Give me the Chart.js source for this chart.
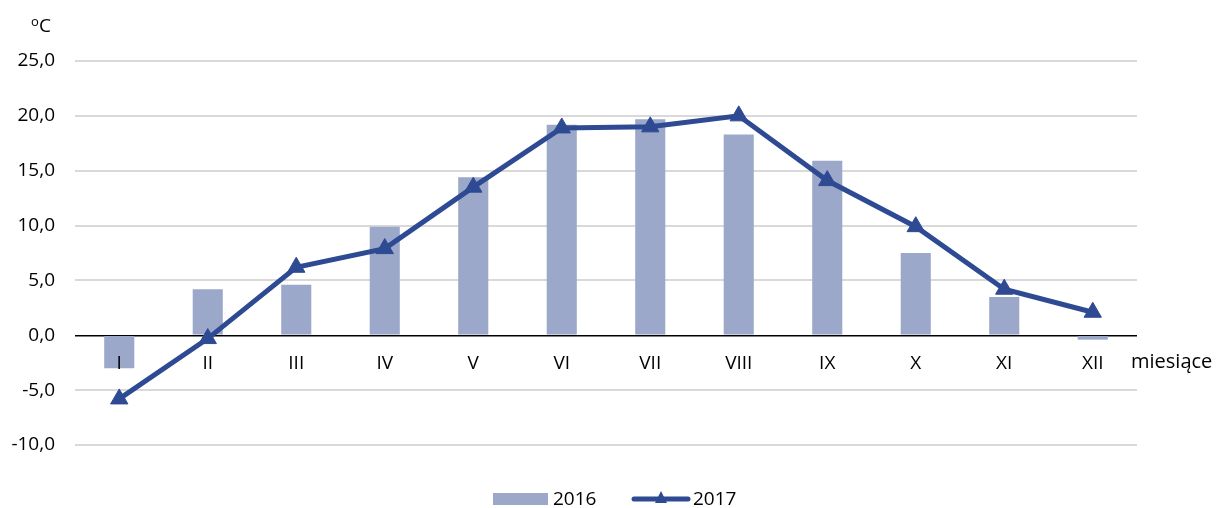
<!DOCTYPE html>
<html><head><meta charset="utf-8">
<script src="https://cdn.jsdelivr.net/npm/chart.js@4/dist/chart.umd.min.js"></script>
<style>html,body{margin:0;padding:0;background:#fff;} #c{display:block;}</style>
</head><body>
<canvas id="c" width="1216" height="508"></canvas>
<script>
const categories = ['I','II','III','IV','V','VI','VII','VIII','IX','X','XI','XII'];
const values2016 = [-3.0, 4.2, 4.6, 9.9, 14.4, 19.2, 19.7, 18.3, 15.9, 7.5, 3.5, -0.4];
const values2017 = [-5.8, -0.3, 6.2, 7.9, 13.5, 18.9, 19.0, 20.0, 14.1, 9.9, 4.2, 2.1];
const seriesLabels = ['2016', '2017'];
const yTickValues = [-10, -5, 0, 5, 10, 15, 20, 25];
const unitText = 'C';
const unitSup = 'o';
const xAxisTitle = 'miesiące';

const FONT = '"Open Sans", sans-serif';
const barColor = '#9ba8c9';
const lineColor = '#2e4a92';

const extras = {
  id: 'extras',
  afterDraw(chart) {
    const ctx = chart.ctx;
    const ca = chart.chartArea;
    const y0 = chart.scales.y.getPixelForValue(0);
    ctx.save();
    ctx.fillStyle = '#000';
    ctx.textBaseline = 'alphabetic';
    ctx.textAlign = 'left';
    ctx.font = '13px ' + FONT;
    ctx.fillText(unitSup, 31, 26);
    ctx.font = '19px ' + FONT;
    ctx.fillText(unitText, 39, 32);
    ctx.textBaseline = 'middle';
    ctx.font = '20px ' + FONT;
    ctx.fillText(xAxisTitle, ca.right - 6, y0 + 27);
    ctx.font = '19px ' + FONT;
    const ly = 499;
    ctx.fillStyle = barColor;
    ctx.fillRect(493, ly - 6, 55, 12);
    ctx.fillStyle = '#000';
    ctx.fillText(seriesLabels[0], 553, ly + 1);
    ctx.strokeStyle = lineColor;
    ctx.lineWidth = 5;
    ctx.lineCap = 'round';
    ctx.beginPath(); ctx.moveTo(634, ly); ctx.lineTo(688, ly); ctx.stroke();
    ctx.fillStyle = lineColor;
    ctx.beginPath(); ctx.moveTo(661, ly - 8); ctx.lineTo(667, ly + 4); ctx.lineTo(655, ly + 4); ctx.closePath(); ctx.fill();
    ctx.fillStyle = '#000';
    ctx.fillText(seriesLabels[1], 693, ly + 1);
    ctx.restore();
  }
};

new Chart(document.getElementById('c'), {
  data: {
    labels: categories,
    datasets: [
      {
        type: 'line', label: seriesLabels[1], data: values2017,
        borderColor: lineColor, backgroundColor: lineColor, borderWidth: 5,
        pointStyle: 'triangle', pointRadius: 10, pointHoverRadius: 10,
        pointBackgroundColor: lineColor, pointBorderColor: lineColor, pointBorderWidth: 1,
        tension: 0, order: 0
      },
      {
        type: 'bar', label: seriesLabels[0], data: values2016,
        backgroundColor: barColor, borderWidth: 0,
        barPercentage: 0.34, categoryPercentage: 1, order: 1
      }
    ]
  },
  options: {
    responsive: false,
    animation: false,
    events: [],
    layout: { padding: { top: 61, right: 79, bottom: 63, left: 0 } },
    plugins: { legend: { display: false }, tooltip: { enabled: false } },
    scales: {
      x: {
        type: 'category',
        position: { y: 0 },
        offset: true,
        grid: { display: false, drawTicks: false },
        border: { display: false },
        ticks: { z: 1, color: '#000', font: { family: FONT, size: 19 }, padding: 17, maxRotation: 0, autoSkip: false }
      },
      y: {
        min: -10, max: 25,
        afterBuildTicks: s => { s.ticks = yTickValues.map(v => ({ value: v })); },
        afterFit: s => { s.width = 75; },
        grid: {
          drawTicks: false,
          color: c => (c.tick && c.tick.value === 0) ? '#000000' : '#d9d9d9',
          lineWidth: c => (c.tick && c.tick.value === 0) ? 1.5 : 2
        },
        border: { display: false },
        ticks: {
          color: '#000', font: { family: FONT, size: 19 }, padding: 20,
          callback: v => v.toFixed(1).replace('.', ',')
        }
      }
    }
  },
  plugins: [extras]
});
</script>
</body></html>
